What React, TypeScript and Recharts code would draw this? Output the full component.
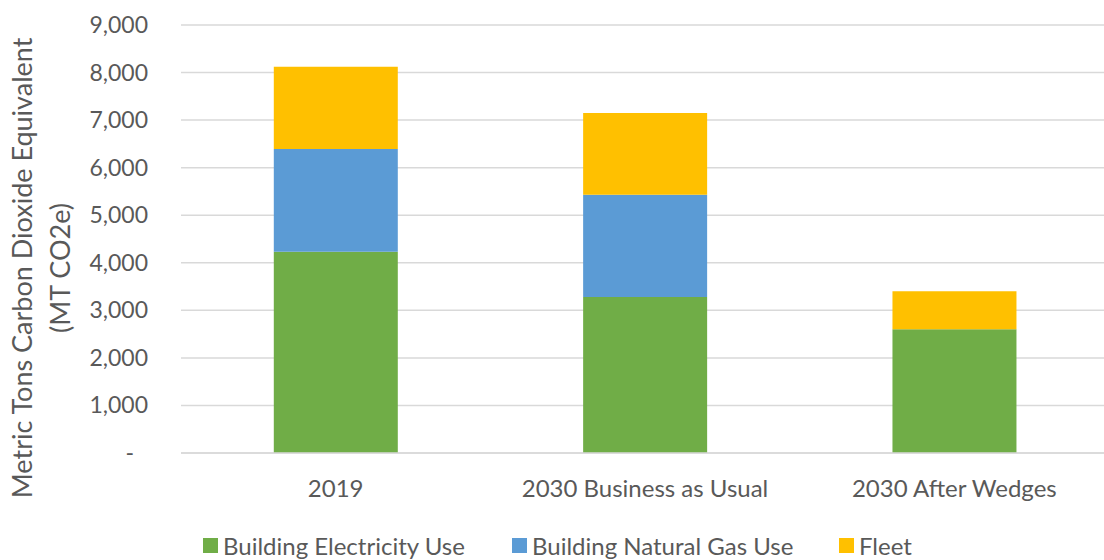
import React from 'react';
import { BarChart, Bar, XAxis, YAxis, CartesianGrid, Label } from 'recharts';

// values (MT CO2e)
const categories = ['2019', '2030 Business as Usual', '2030 After Wedges'];
const electricity = [4230, 3280, 2600];
const naturalGas = [2160, 2150, 0];
const fleet = [1730, 1720, 800];
const yTicks = [0, 1000, 2000, 3000, 4000, 5000, 6000, 7000, 8000, 9000];

const SERIES = [
  { key: 'electricity', name: 'Building Electricity Use', color: '#70ad47', values: electricity },
  { key: 'naturalGas', name: 'Building Natural Gas Use', color: '#5b9bd5', values: naturalGas },
  { key: 'fleet', name: 'Fleet', color: '#ffc000', values: fleet },
];

const FONT = "Lato, 'Open Sans', sans-serif";
const TEXT = '#595959';
const GRID = '#d9d9d9';

const data = categories.map((category, i) => {
  const row: Record<string, string | number> = { category };
  SERIES.forEach((s) => {
    row[s.key] = s.values[i];
  });
  return row;
});

const YTick = (props: any) => {
  const { x, y, payload } = props;
  const isZero = payload.value === 0;
  return (
    <text
      x={isZero ? x - 14 : x}
      y={y}
      dy="0.35em"
      textAnchor="end"
      fill={TEXT}
      fontSize={23}
      fontFamily={FONT}
    >
      {isZero ? '-' : payload.value.toLocaleString('en-US')}
    </text>
  );
};

const XTick = (props: any) => {
  const { x, y, payload } = props;
  return (
    <text x={x} y={y + 44} textAnchor="middle" fill={TEXT} fontSize={24} fontFamily={FONT}>
      {payload.value}
    </text>
  );
};

const YTitle = () => (
  <g fill={TEXT} fontSize={27} fontFamily={FONT} textAnchor="middle">
    <text x={23} y={268} dy="0.35em" transform="rotate(-90, 23, 268)">
      Metric Tons Carbon Dioxide Equivalent
    </text>
    <text x={61} y={268} dy="0.35em" transform="rotate(-90, 61, 268)">
      (MT CO2e)
    </text>
  </g>
);

const LEGEND_LEFT = [203, 512, 839];

const App: React.FC = () => {
  return (
    <div style={{ position: 'absolute', left: 0, top: 0, width: 1104, height: 560, background: '#fff', overflow: 'hidden' }}>
      <BarChart
        width={1104}
        height={560}
        data={data}
        margin={{ top: 25, right: -5, bottom: 0, left: 0 }}
        barCategoryGap="30%"
      >
        <CartesianGrid vertical={false} stroke={GRID} strokeWidth={1.5} />
        <XAxis
          dataKey="category"
          height={107}
          tickSize={0}
          tickMargin={0}
          axisLine={{ stroke: GRID, strokeWidth: 1.5 }}
          tickLine={false}
          tick={<XTick />}
          interval={0}
        />
        <YAxis
          width={181}
          domain={[0, 9000]}
          ticks={yTicks}
          tickSize={0}
          tickMargin={33}
          axisLine={false}
          tickLine={false}
          tick={<YTick />}
        >
          <Label content={<YTitle />} />
        </YAxis>
        {SERIES.map((s) => (
          <Bar key={s.key} dataKey={s.key} name={s.name} stackId="total" fill={s.color} isAnimationActive={false} />
        ))}
      </BarChart>
      {SERIES.map((s, i) => (
        <div
          key={s.key}
          style={{
            position: 'absolute',
            left: LEGEND_LEFT[i],
            top: 531,
            display: 'flex',
            alignItems: 'center',
            fontFamily: FONT,
            fontSize: 24,
            color: TEXT,
            whiteSpace: 'nowrap',
          }}
        >
          <span style={{ display: 'inline-block', width: 15, height: 15, background: s.color, marginRight: 5 }} />
          {s.name}
        </div>
      ))}
    </div>
  );
};

export default App;
